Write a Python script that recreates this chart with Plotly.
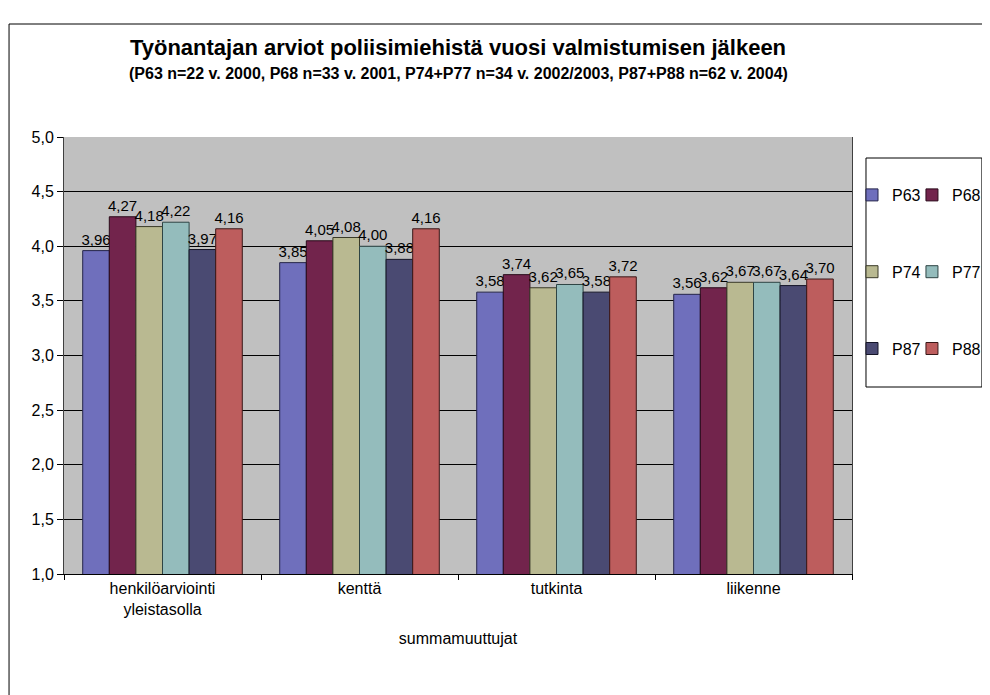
import plotly.graph_objects as go

categories = ["henkilöarviointi<br>yleistasolla", "kenttä", "tutkinta", "liikenne"]
series_names = ["P63", "P68", "P74", "P77", "P87", "P88"]
P63 = [3.96, 3.85, 3.58, 3.56]
P68 = [4.27, 4.05, 3.74, 3.62]
P74 = [4.18, 4.08, 3.62, 3.67]
P77 = [4.22, 4.00, 3.65, 3.67]
P87 = [3.97, 3.88, 3.58, 3.64]
P88 = [4.16, 4.16, 3.72, 3.70]
series_values = [P63, P68, P74, P77, P87, P88]

colors = ["#6F6FBC", "#72244C", "#B9B991", "#94BCBC", "#4A4A72", "#BD5D5D"]
outlines = ["#25254a", "#2a0a1a", "#3a3a28", "#2e4444", "#151528", "#3a1818"]
legend_of = ["legend", "legend2", "legend", "legend2", "legend", "legend2"]

fig = go.Figure()
for name, vals, col, oc, lg in zip(series_names, series_values, colors, outlines, legend_of):
    fig.add_trace(go.Bar(
        x=categories, y=vals, name=name,
        marker=dict(color=col, line=dict(color=oc, width=1)),
        texttemplate="%{y:.2f}", textposition="outside",
        textfont=dict(family="Arial, Liberation Sans", size=15, color="black"),
        constraintext="none", cliponaxis=False,
        legend=lg, legendgroup=name,
    ))

OFF = 8  # page body margin
W, H = 990, 695
# plot area in screen pixels
PL, PR, PT, PB = 63.5, 852, 137, 574
L, R, T, B = PL - OFF, W - (PR - OFF), PT - OFF, H - (PB - OFF)
pw, ph = W - L - R, H - T - B

def px(x):
    return (x - OFF - L) / pw

def py(y):
    return (H - B - (y - OFF)) / ph

font = "Arial, Liberation Sans, sans-serif"
legend_common = dict(yanchor="top", xanchor="left", bgcolor="rgba(0,0,0,0)",
                     font=dict(family=font, size=16), tracegroupgap=53,
                     traceorder="grouped")
fig.update_layout(
    width=W, height=H,
    margin=dict(l=L, r=R, t=T, b=B, autoexpand=False),
    paper_bgcolor="white", plot_bgcolor="#C0C0C0",
    separators=", ",
    barmode="group", bargap=0.19, bargroupgap=0,
    font=dict(family=font, size=16, color="black"),
    title=dict(text="<b>Työnantajan arviot poliisimiehistä vuosi valmistumisen jälkeen</b>",
               x=0.5, xref="paper", xanchor="center", y=1 - (47 - OFF) / H, yanchor="middle",
               font=dict(family=font, size=22, color="black")),
    showlegend=True,
    legend=dict(x=px(852), y=py(178), **legend_common),
    legend2=dict(x=px(912), y=py(178), **legend_common),
    xaxis=dict(showline=True, linecolor="black", linewidth=1,
               ticks="outside", tickson="boundaries", ticklen=5, tickcolor="black",
               tickfont=dict(size=16), showgrid=False,
               title=dict(text="summamuuttujat", font=dict(size=16), standoff=15)),
    yaxis=dict(range=[1, 5], dtick=0.5, tickformat=".1f", showgrid=True,
               gridcolor="black", gridwidth=1, zeroline=False,
               showline=True, linecolor="#404040", linewidth=1, mirror=True,
               ticks="outside", ticklen=6, tickcolor="black",
               tickfont=dict(size=16)),
    annotations=[dict(text="<b>(P63 n=22 v. 2000, P68 n=33 v. 2001, P74+P77 n=34 v. 2002/2003, P87+P88 n=62 v. 2004)</b>",
                      x=0.5, xref="paper", xanchor="center",
                      y=py(74), yref="paper", yanchor="middle", showarrow=False,
                      font=dict(family=font, size=16, color="black"))],
    shapes=[
        dict(type="rect", xref="paper", yref="paper", x0=px(8.5), x1=px(996), y0=py(700), y1=py(24),
             line=dict(color="black", width=1), fillcolor="rgba(0,0,0,0)", layer="above"),
        dict(type="rect", xref="paper", yref="paper", x0=px(866), x1=px(982), y0=py(387), y1=py(158),
             line=dict(color="black", width=1), fillcolor="white", layer="above"),
    ],
)

fig.write_html("out.html")
